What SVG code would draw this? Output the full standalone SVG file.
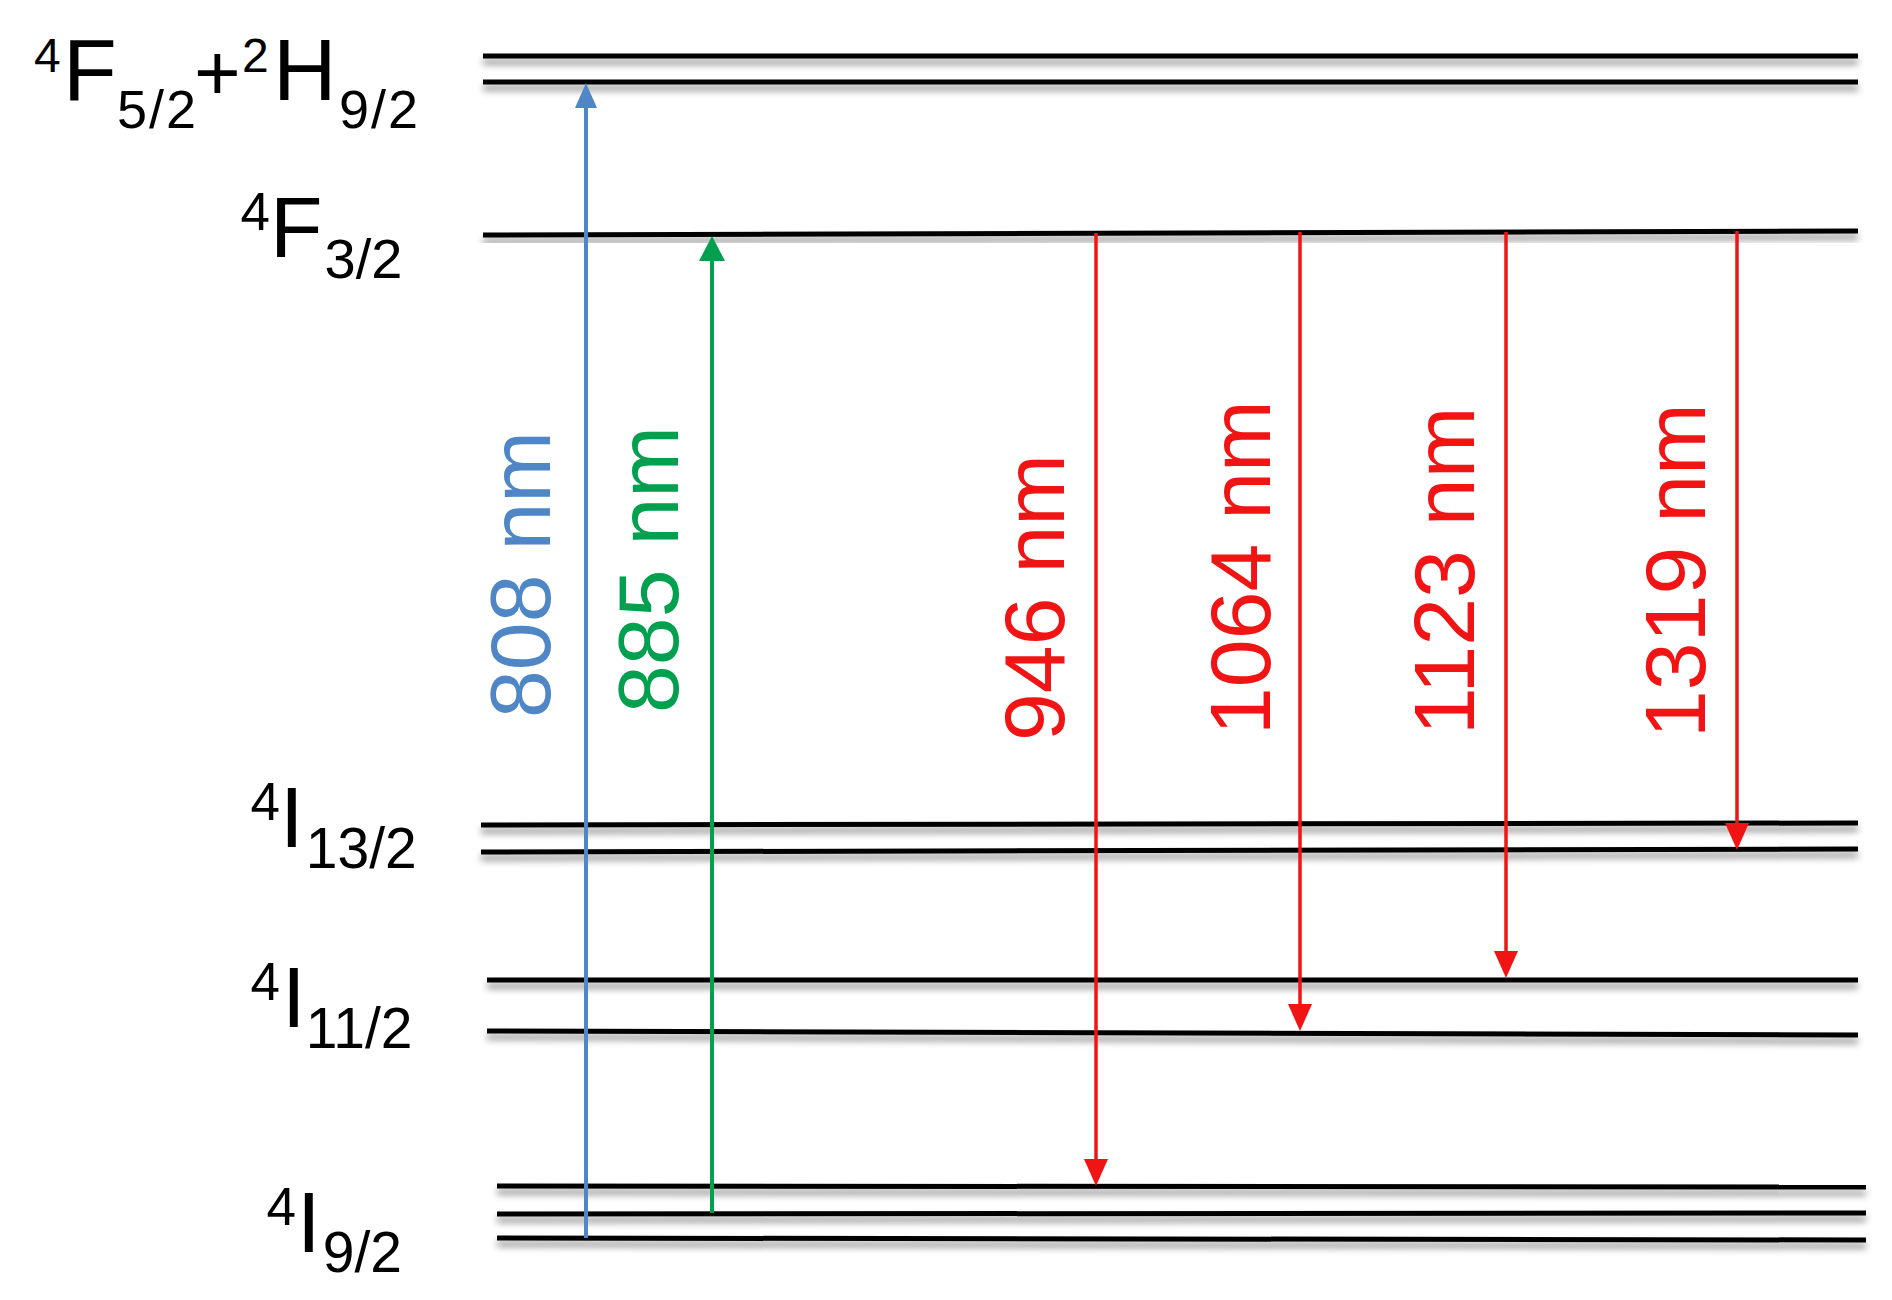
<svg xmlns="http://www.w3.org/2000/svg" width="1892" height="1300" viewBox="0 0 1892 1300">
<style>
  text { font-family: "Liberation Sans", Arial, Helvetica, sans-serif; }
  .lvl { stroke: #000; stroke-width: 5; fill: none; }
  .lbl { fill: #000; }
  .blue { stroke: #4F86C6; stroke-width: 4; fill: none; }
  .green { stroke: #00A04F; stroke-width: 4; fill: none; }
  .red { stroke: #F01414; stroke-width: 3.5; fill: none; }
  .tb { fill: #4F86C6; font-size: 86px; }
  .tg { fill: #00A04F; font-size: 86px; }
  .tr { fill: #F01414; font-size: 86px; }
</style>
<defs>
  <filter id="shadow" x="-5%" y="-200%" width="110%" height="500%">
    <feDropShadow dx="0" dy="6" stdDeviation="3.5" flood-color="#000" flood-opacity="0.45"/>
  </filter>
  <marker id="hb" markerUnits="userSpaceOnUse" markerWidth="30" markerHeight="30" refX="15" refY="11" orient="auto">
    <path d="M0,0 L25,11 L0,22 Z" fill="#4F86C6"/>
  </marker>
  <marker id="hg" markerUnits="userSpaceOnUse" markerWidth="30" markerHeight="30" refX="15" refY="13" orient="auto">
    <path d="M0,0 L25,13 L0,26 Z" fill="#00A04F"/>
  </marker>
  <marker id="hr" markerUnits="userSpaceOnUse" markerWidth="30" markerHeight="30" refX="17" refY="12" orient="auto">
    <path d="M0,0 L27,12 L0,24 Z" fill="#F01414"/>
  </marker>
</defs>
<rect width="1892" height="1300" fill="#fff"/>

<g id="level-4F52-2H92">
  <g filter="url(#shadow)">
    <line class="lvl" x1="483" y1="56" x2="1858" y2="56"/>
    <line class="lvl" x1="483" y1="82" x2="1858" y2="82"/>
  </g>
  <text class="lbl"><tspan x="34" y="72" font-size="48">4</tspan><tspan x="63" y="100" font-size="88">F</tspan><tspan x="117" y="128" font-size="54" letter-spacing="2">5/2</tspan><tspan x="194" y="100" font-size="80">+</tspan><tspan x="242" y="72" font-size="48">2</tspan><tspan x="273" y="100" font-size="88">H</tspan><tspan x="339" y="128" font-size="54" letter-spacing="2">9/2</tspan></text>
</g>

<g id="level-4F32">
  <g filter="url(#shadow)">
    <line class="lvl" x1="483" y1="235" x2="1858" y2="231"/>
  </g>
  <text class="lbl"><tspan x="240.6" y="230" font-size="53">4</tspan><tspan x="270" y="257" font-size="86">F</tspan><tspan x="324.6" y="278" font-size="56">3/2</tspan></text>
</g>

<g id="level-4I132">
  <g filter="url(#shadow)">
    <line class="lvl" x1="481" y1="825" x2="1858" y2="823"/>
    <line class="lvl" x1="481" y1="852" x2="1858" y2="849"/>
  </g>
  <text class="lbl"><tspan x="250.6" y="820" font-size="53">4</tspan><tspan x="280" y="847" font-size="85">I</tspan><tspan x="305.8" y="868" font-size="57">13/2</tspan></text>
</g>

<g id="level-4I112">
  <g filter="url(#shadow)">
    <line class="lvl" x1="487" y1="980" x2="1858" y2="980"/>
    <line class="lvl" x1="487" y1="1031" x2="1858" y2="1035"/>
  </g>
  <text class="lbl"><tspan x="250.6" y="1000" font-size="53">4</tspan><tspan x="282" y="1027" font-size="85">I</tspan><tspan x="305.8" y="1048" font-size="57">11/2</tspan></text>
</g>

<g id="level-4I92">
  <g filter="url(#shadow)">
    <line class="lvl" x1="497" y1="1186" x2="1866" y2="1187"/>
    <line class="lvl" x1="497" y1="1214" x2="1866" y2="1213"/>
    <line class="lvl" x1="497" y1="1238" x2="1866" y2="1240"/>
  </g>
  <text class="lbl"><tspan x="266.6" y="1225" font-size="53">4</tspan><tspan x="297" y="1252" font-size="85">I</tspan><tspan x="322.7" y="1272" font-size="57">9/2</tspan></text>
</g>

<g id="connectors">
  <g id="arrow-808">
    <line class="blue" x1="586" y1="1238" x2="586" y2="93" marker-end="url(#hb)"/>
    <text class="tb" x="550" y="718" transform="rotate(-90 550 718)">808 nm</text>
  </g>
  <g id="arrow-885">
    <line class="green" x1="712" y1="1213" x2="712" y2="246" marker-end="url(#hg)"/>
    <text class="tg" x="678" y="713" transform="rotate(-90 678 713)">885 nm</text>
  </g>
  <g id="arrow-946">
    <line class="red" x1="1096" y1="233" x2="1096" y2="1176" marker-end="url(#hr)"/>
    <text class="tr" x="1064" y="741" transform="rotate(-90 1064 741)">946 nm</text>
  </g>
  <g id="arrow-1064">
    <line class="red" x1="1300" y1="232" x2="1300" y2="1021" marker-end="url(#hr)"/>
    <text class="tr" x="1270" y="735" transform="rotate(-90 1270 735)">1064 nm</text>
  </g>
  <g id="arrow-1123">
    <line class="red" x1="1506" y1="232" x2="1506" y2="968" marker-end="url(#hr)"/>
    <text class="tr" x="1474" y="735" transform="rotate(-90 1474 735)">1123 nm</text>
  </g>
  <g id="arrow-1319">
    <line class="red" x1="1737" y1="231" x2="1737" y2="840" marker-end="url(#hr)"/>
    <text class="tr" x="1705" y="738" transform="rotate(-90 1705 738)">1319 nm</text>
  </g>
</g>
</svg>
